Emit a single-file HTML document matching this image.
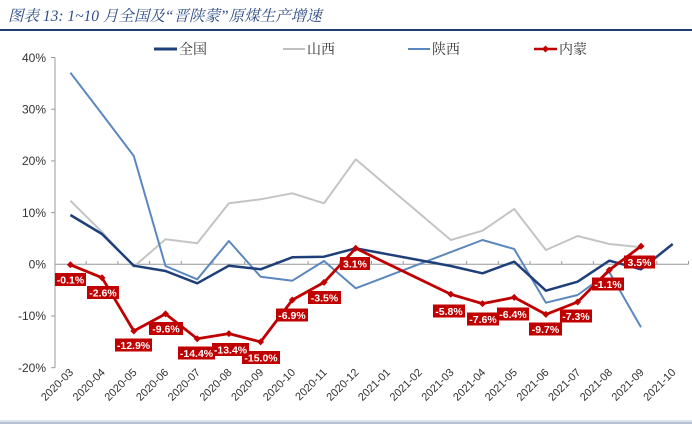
<!DOCTYPE html>
<html><head><meta charset="utf-8"><style>
html,body{margin:0;padding:0;background:#fff;}
svg{display:block;}
.lbl{font-family:"Liberation Sans",sans-serif;font-size:10.5px;font-weight:bold;fill:#fff;text-anchor:middle;}
.ax{font-family:"Liberation Sans",sans-serif;font-size:12px;fill:#333;text-anchor:end;}
.xl{font-family:"Liberation Sans",sans-serif;font-size:11px;fill:#333;text-anchor:end;}
.lg{font-family:"Liberation Serif","Noto Serif CJK SC",serif;font-size:14px;fill:#333;}
</style></head><body>
<svg width="692" height="424" viewBox="0 0 692 424" xmlns="http://www.w3.org/2000/svg">
<rect width="692" height="424" fill="#fff"/>
<text x="8" y="21" font-family="'Liberation Serif','Noto Serif CJK SC',serif" font-style="italic" font-size="15.5" fill="#2e4d86">图表 13:  1~10 月全国及“晋陕蒙”原煤生产增速</text>
<line x1="0" y1="30" x2="692" y2="30" stroke="#1f3e78" stroke-width="2"/>
<line x1="0" y1="420.5" x2="692" y2="420.5" stroke="#dde4ee" stroke-width="1"/>
<rect x="0" y="421.5" width="692" height="3" fill="#b6c2d4"/>

<!-- legend -->
<line x1="154" y1="49" x2="177" y2="49" stroke="#1f3f7a" stroke-width="3"/>
<text class="lg" x="179" y="54">全国</text>
<line x1="283" y1="49" x2="305" y2="49" stroke="#bfbfbf" stroke-width="2"/>
<text class="lg" x="307" y="54">山西</text>
<line x1="408" y1="49" x2="430" y2="49" stroke="#5b87bf" stroke-width="2"/>
<text class="lg" x="432" y="54">陕西</text>
<line x1="534" y1="49" x2="557" y2="49" stroke="#c00000" stroke-width="2.5"/>
<path d="M545.5 45.5 L549 49 L545.5 52.5 L542 49 Z" fill="#c00000"/>
<text class="lg" x="559" y="54">内蒙</text>

<!-- y axis -->
<line x1="55" y1="57.5" x2="55" y2="367.7" stroke="#999" stroke-width="1"/>
<g stroke="#999" stroke-width="1">
<line x1="51" y1="57.5" x2="55" y2="57.5"/>
<line x1="51" y1="109.2" x2="55" y2="109.2"/>
<line x1="51" y1="160.9" x2="55" y2="160.9"/>
<line x1="51" y1="212.6" x2="55" y2="212.6"/>
<line x1="51" y1="316" x2="55" y2="316"/>
<line x1="51" y1="367.7" x2="55" y2="367.7"/>
</g>
<text class="ax" x="46" y="62">40%</text>
<text class="ax" x="46" y="113.5">30%</text>
<text class="ax" x="46" y="165">20%</text>
<text class="ax" x="46" y="217">10%</text>
<text class="ax" x="46" y="268.5">0%</text>
<text class="ax" x="46" y="320">-10%</text>
<text class="ax" x="46" y="372">-20%</text>

<!-- x axis -->
<line x1="55" y1="264.3" x2="688.5" y2="264.3" stroke="#999" stroke-width="1"/>
<g stroke="#999" stroke-width="1">
<line x1="86.2" y1="261" x2="86.2" y2="264.3"/><line x1="117.9" y1="261" x2="117.9" y2="264.3"/>
<line x1="149.6" y1="261" x2="149.6" y2="264.3"/><line x1="181.3" y1="261" x2="181.3" y2="264.3"/>
<line x1="213" y1="261" x2="213" y2="264.3"/><line x1="244.7" y1="261" x2="244.7" y2="264.3"/>
<line x1="276.4" y1="261" x2="276.4" y2="264.3"/><line x1="308.1" y1="261" x2="308.1" y2="264.3"/>
<line x1="339.8" y1="261" x2="339.8" y2="264.3"/><line x1="371.5" y1="261" x2="371.5" y2="264.3"/>
<line x1="403.2" y1="261" x2="403.2" y2="264.3"/><line x1="434.9" y1="261" x2="434.9" y2="264.3"/>
<line x1="466.6" y1="261" x2="466.6" y2="264.3"/><line x1="498.3" y1="261" x2="498.3" y2="264.3"/>
<line x1="530" y1="261" x2="530" y2="264.3"/><line x1="561.7" y1="261" x2="561.7" y2="264.3"/>
<line x1="593.4" y1="261" x2="593.4" y2="264.3"/><line x1="625.1" y1="261" x2="625.1" y2="264.3"/>
<line x1="656.8" y1="261" x2="656.8" y2="264.3"/><line x1="688.5" y1="261" x2="688.5" y2="264.3"/>
</g>

<!-- x labels -->
<text class="xl" transform="translate(74,373) rotate(-45)">2020-03</text>
<text class="xl" transform="translate(105.7,373) rotate(-45)">2020-04</text>
<text class="xl" transform="translate(137.4,373) rotate(-45)">2020-05</text>
<text class="xl" transform="translate(169.1,373) rotate(-45)">2020-06</text>
<text class="xl" transform="translate(200.8,373) rotate(-45)">2020-07</text>
<text class="xl" transform="translate(232.5,373) rotate(-45)">2020-08</text>
<text class="xl" transform="translate(264.2,373) rotate(-45)">2020-09</text>
<text class="xl" transform="translate(295.9,373) rotate(-45)">2020-10</text>
<text class="xl" transform="translate(327.6,373) rotate(-45)">2020-11</text>
<text class="xl" transform="translate(359.3,373) rotate(-45)">2020-12</text>
<text class="xl" transform="translate(391,373) rotate(-45)">2021-01</text>
<text class="xl" transform="translate(422.7,373) rotate(-45)">2021-02</text>
<text class="xl" transform="translate(454.4,373) rotate(-45)">2021-03</text>
<text class="xl" transform="translate(486.1,373) rotate(-45)">2021-04</text>
<text class="xl" transform="translate(517.8,373) rotate(-45)">2021-05</text>
<text class="xl" transform="translate(549.5,373) rotate(-45)">2021-06</text>
<text class="xl" transform="translate(581.2,373) rotate(-45)">2021-07</text>
<text class="xl" transform="translate(612.9,373) rotate(-45)">2021-08</text>
<text class="xl" transform="translate(644.6,373) rotate(-45)">2021-09</text>
<text class="xl" transform="translate(676.3,373) rotate(-45)">2021-10</text>

<!-- 山西 gray -->
<polyline fill="none" stroke="#c4c4c4" stroke-width="2" stroke-linejoin="round"
points="70.4,200.7 102,232 133.8,266.7 165.5,239.3 197.2,243.3 228.9,203.3 260.6,199.3 292.3,193.3 324,203.3 355.7,159.3 450.8,240 482.5,230.7 514.2,209 545.9,250 577.6,236 609.3,244 641,247.3"/>
<!-- 陕西 light blue -->
<polyline fill="none" stroke="#5b87bf" stroke-width="2" stroke-linejoin="round"
points="70.4,72.7 102,114 133.8,156 165.5,266 197.2,279.3 228.9,241 260.6,276.7 292.3,280.7 324,261 355.7,288.3 482.5,240 514.2,249 545.9,302.7 577.6,295 609.3,272 641,327.3"/>
<!-- 全国 dark blue -->
<polyline fill="none" stroke="#1f3f7a" stroke-width="2.5" stroke-linejoin="round"
points="70.4,215 102,234 133.8,265.7 165.5,271 197.2,283.3 228.9,265.7 260.6,269.3 292.3,257.3 324,256.7 355.7,248.3 450.8,266 482.5,273.3 514.2,261.7 545.9,290.7 577.6,281.7 609.3,260.7 641,269.3 672.7,244"/>
<!-- 内蒙 red -->
<polyline fill="none" stroke="#c00000" stroke-width="2.8" stroke-linejoin="round"
points="70.4,264.8 102,277.7 133.8,331 165.5,313.9 197.2,338.7 228.9,333.6 260.6,341.9 292.3,300 324,282.4 355.7,248.3 450.8,294.3 482.5,303.6 514.2,297.4 545.9,314.4 577.6,302 609.3,270 641,246.2"/>
<g fill="#c00000">
<path d="M70.4 261.3 L73.9 264.8 L70.4 268.3 L66.9 264.8Z"/>
<path d="M102 274.2 L105.5 277.7 L102 281.2 L98.5 277.7Z"/>
<path d="M133.8 327.5 L137.3 331 L133.8 334.5 L130.3 331Z"/>
<path d="M165.5 310.4 L169 313.9 L165.5 317.4 L162 313.9Z"/>
<path d="M197.2 335.2 L200.7 338.7 L197.2 342.2 L193.7 338.7Z"/>
<path d="M228.9 330.1 L232.4 333.6 L228.9 337.1 L225.4 333.6Z"/>
<path d="M260.6 338.4 L264.1 341.9 L260.6 345.4 L257.1 341.9Z"/>
<path d="M292.3 296.5 L295.8 300 L292.3 303.5 L288.8 300Z"/>
<path d="M324 278.9 L327.5 282.4 L324 285.9 L320.5 282.4Z"/>
<path d="M355.7 244.8 L359.2 248.3 L355.7 251.8 L352.2 248.3Z"/>
<path d="M450.8 290.8 L454.3 294.3 L450.8 297.8 L447.3 294.3Z"/>
<path d="M482.5 300.1 L486 303.6 L482.5 307.1 L479 303.6Z"/>
<path d="M514.2 293.9 L517.7 297.4 L514.2 300.9 L510.7 297.4Z"/>
<path d="M545.9 310.9 L549.4 314.4 L545.9 317.9 L542.4 314.4Z"/>
<path d="M577.6 298.5 L581.1 302 L577.6 305.5 L574.1 302Z"/>
<path d="M609.3 266.5 L612.8 270 L609.3 273.5 L605.8 270Z"/>
<path d="M641 242.7 L644.5 246.2 L641 249.7 L637.5 246.2Z"/>
</g>

<!-- data labels -->
<g fill="#c00000">
<rect x="55" y="273" width="31" height="13"/>
<rect x="87" y="286" width="32" height="13"/>
<rect x="115" y="338.5" width="37" height="13"/>
<rect x="149" y="322" width="34" height="13"/>
<rect x="178" y="346.5" width="37" height="13"/>
<rect x="212" y="343" width="37" height="13"/>
<rect x="242" y="351" width="38" height="13"/>
<rect x="276" y="308.5" width="32" height="13"/>
<rect x="308" y="291" width="33" height="13"/>
<rect x="340" y="257" width="30" height="13"/>
<rect x="433" y="304.5" width="32" height="13"/>
<rect x="467" y="312.5" width="32" height="13"/>
<rect x="497" y="307.5" width="32" height="13"/>
<rect x="529" y="322.5" width="33" height="13"/>
<rect x="560" y="309.5" width="32" height="13"/>
<rect x="592" y="277.5" width="32" height="13"/>
<rect x="624" y="255.5" width="31" height="13"/>
</g>
<text class="lbl" x="70.5" y="283.5">-0.1%</text>
<text class="lbl" x="103" y="296.5">-2.6%</text>
<text class="lbl" x="133.5" y="349">-12.9%</text>
<text class="lbl" x="166" y="332.5">-9.6%</text>
<text class="lbl" x="196.5" y="357">-14.4%</text>
<text class="lbl" x="230.5" y="353.5">-13.4%</text>
<text class="lbl" x="261" y="361.5">-15.0%</text>
<text class="lbl" x="292" y="319">-6.9%</text>
<text class="lbl" x="324.5" y="301.5">-3.5%</text>
<text class="lbl" x="355" y="267.5">3.1%</text>
<text class="lbl" x="449" y="315">-5.8%</text>
<text class="lbl" x="483" y="323">-7.6%</text>
<text class="lbl" x="513" y="318">-6.4%</text>
<text class="lbl" x="545.5" y="333">-9.7%</text>
<text class="lbl" x="576" y="320">-7.3%</text>
<text class="lbl" x="608" y="288">-1.1%</text>
<text class="lbl" x="639.5" y="266">3.5%</text>
</svg>
</body></html>
